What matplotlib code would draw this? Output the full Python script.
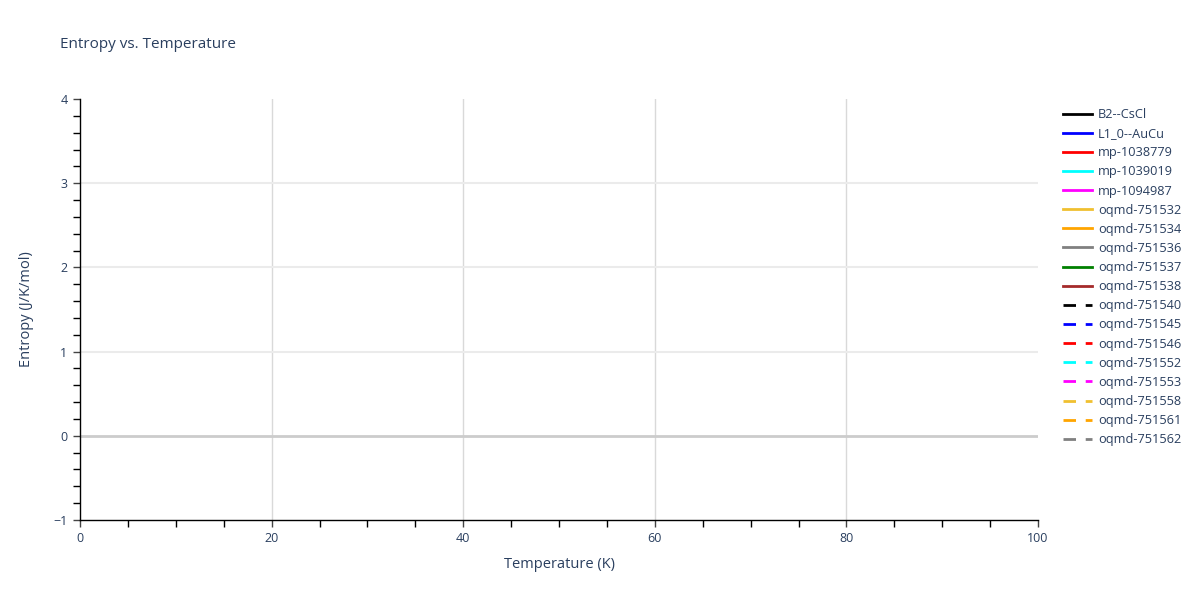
import matplotlib
matplotlib.use("Agg")
import matplotlib.pyplot as plt
from matplotlib.ticker import MultipleLocator

plt.rcParams['font.family'] = ['Open Sans', 'DejaVu Sans']

# Data: series names and styles (no visible data points in the reference range)
series_names = ["B2--CsCl", "L1_0--AuCu", "mp-1038779", "mp-1039019", "mp-1094987",
                "oqmd-751532", "oqmd-751534", "oqmd-751536", "oqmd-751537", "oqmd-751538",
                "oqmd-751540", "oqmd-751545", "oqmd-751546", "oqmd-751552", "oqmd-751553",
                "oqmd-751558", "oqmd-751561", "oqmd-751562"]
series_colors = ["black", "blue", "red", "cyan", "magenta", "#f0c030", "orange", "grey",
                 "green", "brown", "black", "blue", "red", "cyan", "magenta", "#f0c030",
                 "orange", "grey"]
series_dash = ["solid"] * 10 + ["dashed"] * 8
temperature = []  # K
entropy = {name: [] for name in series_names}  # J/K/mol

text_color = "#2a3f5f"

fig = plt.figure(figsize=(12, 6), dpi=100)
ax = fig.add_axes([80/1200, 1 - 520/600, (1038-80)/1200, (520-99)/600])

for name, c, d in zip(series_names, series_colors, series_dash):
    ls = (0, (4.5, 3.5)) if d == "dashed" else "-"
    ax.plot(temperature, entropy[name], color=c, linestyle=ls, linewidth=2, label=name)

ax.set_xlim(0, 100)
ax.set_ylim(-1, 4)
ax.xaxis.set_major_locator(MultipleLocator(20))
ax.xaxis.set_minor_locator(MultipleLocator(5))
ax.yaxis.set_major_locator(MultipleLocator(1))
ax.yaxis.set_minor_locator(MultipleLocator(0.2))

for x in [20, 40, 60, 80]:
    ax.axvline(x, color="#d9d9d9", linewidth=1, zorder=0)
for y in [1, 2, 3]:
    ax.axhline(y, color="#ebebeb", linewidth=1.5, zorder=0)
ax.axhline(0, color="#cccccc", linewidth=2, zorder=0)

for s in ["top", "right"]:
    ax.spines[s].set_visible(False)
for s in ["left", "bottom"]:
    ax.spines[s].set_color("black")
    ax.spines[s].set_linewidth(1)

ax.tick_params(which="major", direction="out", length=5, width=1, color="#444444",
               labelsize=9, labelcolor=text_color, pad=4)
ax.tick_params(which="minor", direction="out", length=5, width=1, color="black")

ax.set_xlabel("Temperature (K)", fontsize=10.5, color=text_color, labelpad=8)
ax.set_ylabel("Entropy (J/K/mol)", fontsize=10.5, color=text_color, labelpad=14)

fig.text(60/1200, 1 - 45/600, "Entropy vs. Temperature", fontsize=11, color=text_color,
         va="center", ha="left")

leg = ax.legend(loc="upper left", bbox_to_anchor=(1063/1200, 1 - 108/600),
                bbox_transform=fig.transFigure, frameon=False, fontsize=9.2,
                handlelength=2.3, handletextpad=0.45, labelspacing=0.48,
                borderaxespad=0, borderpad=0)
for t in leg.get_texts():
    t.set_color(text_color)

fig.savefig("out.png", dpi=100)
